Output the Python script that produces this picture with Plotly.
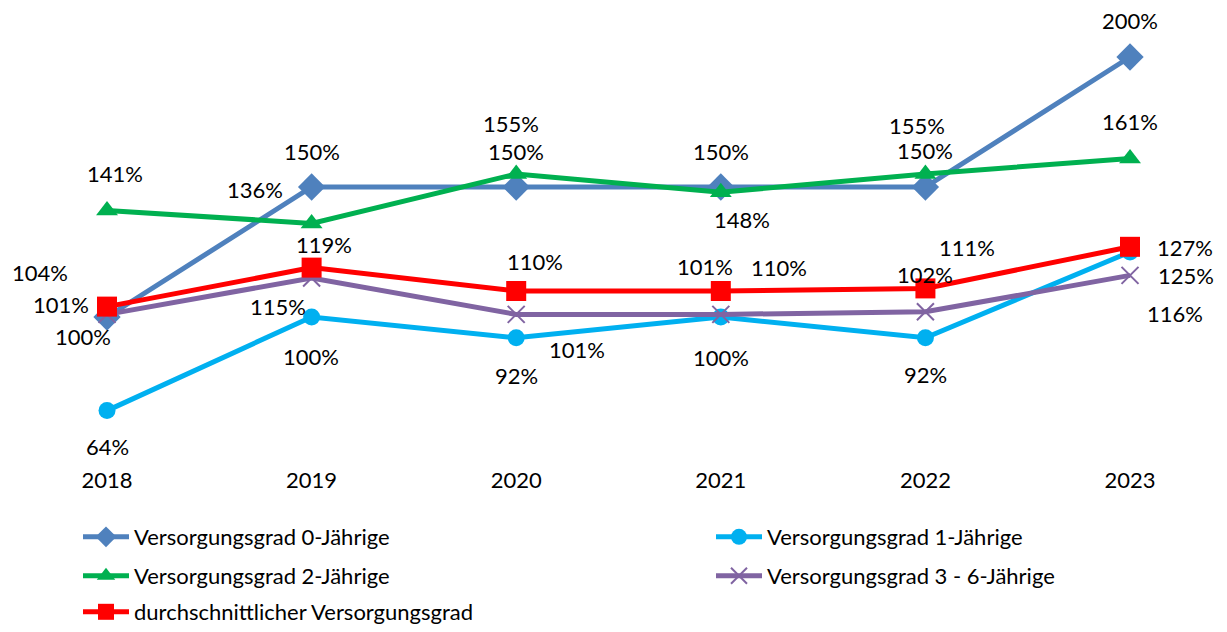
import plotly.graph_objects as go

years = [2018, 2019, 2020, 2021, 2022, 2023]
names = [
    "Versorgungsgrad 0-Jährige",
    "Versorgungsgrad 1-Jährige",
    "Versorgungsgrad 2-Jährige",
    "Versorgungsgrad 3 - 6-Jährige",
    "durchschnittlicher Versorgungsgrad",
]
v0 = [100, 150, 150, 150, 150, 200]
v1 = [64, 100, 92, 100, 92, 125]
v2 = [141, 136, 155, 148, 155, 161]
v36 = [101, 115, 101, 101, 102, 116]
vavg = [104, 119, 110, 110, 111, 127]
series = [v0, v1, v2, v36, vavg]

colors = ["#4F81BD", "#00B0F0", "#00B050", "#8064A2", "#FF0000"]
markers = [
    dict(symbol="diamond", size=21),
    dict(symbol="circle", size=17),
    dict(symbol="triangle-up", size=19),
    dict(symbol="x-thin", size=17),
    dict(symbol="square", size=20),
]
# label pixel offsets (dx right, dy down) per series per point
label_off = [
    [(-24, 19), (0, -36), (0, -36), (0, -36), (0, -37), (0, -37)],
    [(0, 36), (-1, 39), (0, 38), (0, 40), (0, 37), (56, 23)],
    [(8, -37), (-57, -34), (-5, -51), (21, 27), (-8, -49), (0, -37)],
    [(-46, -10), (-34, 28), (61, 35), (-16, -48), (0, -37), (45, 38)],
    [(-67, -34), (12, -23), (19, -30), (58, -24), (42, -41), (55, 1)],
]
legend_pos = [(78, 537), (711, 537), (78, 576), (711, 576), (78, 612)]

FONT = "Lato"
W, H = 1227, 632
fig = go.Figure()
legend_ids = ["legend", "legend2", "legend3", "legend4", "legend5"]
for i, (nm, vals) in enumerate(zip(names, series)):
    mk = dict(markers[i])
    mk["color"] = colors[i]
    if mk["symbol"] == "x-thin":
        mk["line"] = dict(width=2, color=colors[i])
    fig.add_trace(go.Scatter(
        x=years, y=vals, name=nm, mode="lines+markers",
        line=dict(color=colors[i], width=5),
        marker=mk, legend=legend_ids[i], hoverinfo="skip",
    ))
    for j, v in enumerate(vals):
        dx, dy = label_off[i][j]
        fig.add_annotation(x=years[j], y=v, text=f"{v}%", showarrow=False,
                           xshift=dx, yshift=-dy,
                           font=dict(family=FONT, size=22, color="black"))

layout_legends = {}
for k, lid in enumerate(legend_ids):
    lx, ly = legend_pos[k]
    layout_legends[lid] = dict(
        orientation="h",
        x=lx / W, y=1 - ly / H, xref="container", yref="container",
        xanchor="left", yanchor="middle",
        font=dict(family=FONT, size=22, color="black"),
        bgcolor="rgba(0,0,0,0)", itemwidth=46,
    )

fig.update_layout(
    width=W, height=H,
    margin=dict(l=0, r=0, t=10, b=167, autoexpand=False),
    plot_bgcolor="white", paper_bgcolor="white",
    showlegend=True,
    xaxis=dict(range=[2017.477, 2023.474], showgrid=False, tickmode="array",
               tickvals=years, ticktext=[str(y) for y in years],
               zeroline=False, showline=False, ticks="", automargin=False,
               tickfont=dict(family=FONT, size=22, color="black")),
    yaxis=dict(range=[43.08, 218.08], visible=False, automargin=False),
    **layout_legends,
)
fig.write_html("out.html", post_script="document.body.style.margin='0';",
               config={"displayModeBar": False})
